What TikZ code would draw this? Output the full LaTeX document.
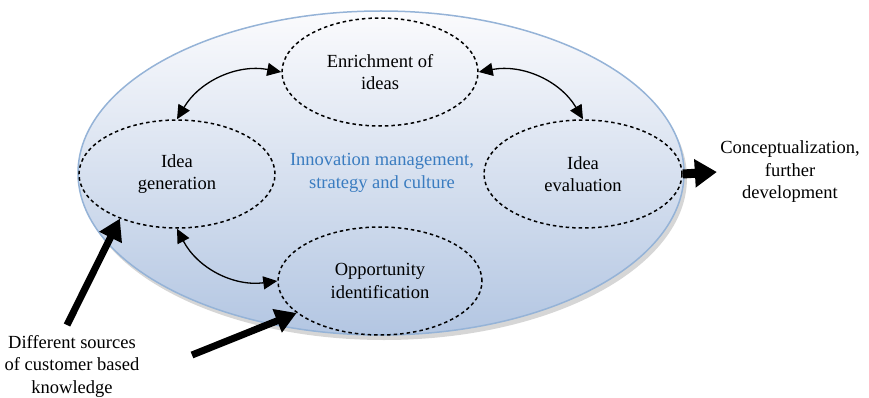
\documentclass[tikz,border=0pt]{standalone}
\usepackage{fontspec}
\setmainfont{Liberation Serif}
\usetikzlibrary{positioning,arrows.meta,shapes.geometric,shadows}
\definecolor{rimblue}{HTML}{95B3D7}
\definecolor{topfill}{HTML}{FBFBFD}
\definecolor{botfill}{HTML}{B3C6E2}
\definecolor{textblue}{HTML}{3A7CC0}

\begin{document}
\begin{tikzpicture}[x=1pt,y=1pt,font=\fontsize{18.5}{22.5}\selectfont]
  \tikzstyle{bubble}=[ellipse,draw,dash pattern=on 3.5pt off 3pt,line width=1.5pt,align=center,inner sep=0pt,minimum width=196pt,minimum height=108pt]
  \tikzstyle{link}=[line width=1.3pt,{Triangle[length=14pt,width=13pt]}-{Triangle[length=14pt,width=13pt]}]
  \tikzstyle{bigarrow}=[line width=7pt,-{Triangle[length=21pt,width=24pt]}]
  \useasboundingbox (0,0) rectangle (869,397);
  \node[ellipse,draw=rimblue,line width=1.5pt,top color=topfill,bottom color=botfill,minimum width=606pt,minimum height=324pt,inner sep=0pt,drop shadow={shadow xshift=3pt,shadow yshift=-5pt,fill=black!40,opacity=.4}] (core) at (381,224) {};
  \node[align=center,text=textblue] (mgmt) at (382,224) {Innovation management,\\strategy and culture};
  \node[bubble] (enrich) at (380,325) {Enrichment of\\ideas};
  \node[bubble] (gen) at (177,223) {Idea\\generation};
  \node[bubble,minimum width=198pt] (eval) at (583,223) {Idea\\evaluation};
  \node[bubble,minimum width=204pt] (opp) at (380,116) {Opportunity\\identification};
  \node[align=center] (concept) at (790,225) {Conceptualization,\\further\\development};
  \node[align=center] (sources) at (72,31) {Different sources\\of customer based\\knowledge};
  \coordinate (src1) at (67,72);
  \coordinate (src2) at (192,42);
  % links between the phases
  \draw[link] (gen.north) to[bend left=35] (enrich.west);
  \draw[link] (enrich.east) to[bend left=35] (eval.north);
  \draw[link] (gen.south) to[bend right=35] (opp.west);
  % inputs and output
  \draw[bigarrow] (src1) -- (gen.218);
  \draw[bigarrow] (src2) -- (opp.201);
  \draw[line width=9pt,-{Triangle[length=22pt,width=27pt]}] (eval.east) -- (concept.west);
\end{tikzpicture}
\end{document}
